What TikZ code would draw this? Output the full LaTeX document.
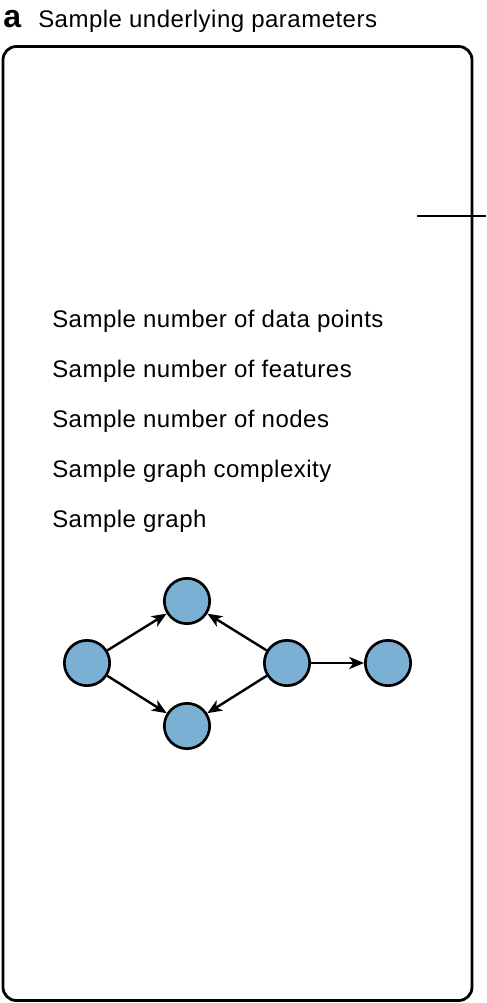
\documentclass[tikz,border=0pt]{standalone}
\usepackage{fontspec}
\setmainfont{Liberation Sans}
\newfontfamily\stepfont[LetterSpace=2]{Liberation Sans}
\usetikzlibrary{arrows.meta,positioning}
\definecolor{GraphBlue}{HTML}{7BAFD4}

\begin{document}
\begin{tikzpicture}[x=0.75pt,y=-0.75pt,
    steptext/.style={anchor=base west,inner sep=0pt,
      font=\stepfont\fontsize{18pt}{21pt}\selectfont},
    vertex/.style={circle,draw=black,fill=GraphBlue,line width=2pt,
      minimum size=34pt,inner sep=0pt},
    edge/.style={line width=1.8pt,-{Stealth[length=11pt,width=9pt,inset=3pt]}}]
  \useasboundingbox (0,0) rectangle (486,1003);
  % panel title
  \node[anchor=base west,inner sep=0pt,
    font=\fontsize{24pt}{26pt}\selectfont\bfseries] (panel) at (3,27) {a};
  \node[steptext] (title) at (38,27) {Sample underlying parameters};
  % frame
  \draw[line width=2.1pt,rounded corners=10pt] (3,46.5) rectangle (472,1000.5);
  \coordinate (linkL) at (417,216);
  \coordinate (linkR) at (486,216);
  \draw[line width=1.9pt] (linkL) -- (linkR);
  % sampling steps
  \node[steptext] (npoints) at (52,327) {Sample number of data points};
  \node[steptext] (nfeat) at (52,377) {Sample number of features};
  \node[steptext] (nnodes) at (52,427) {Sample number of nodes};
  \node[steptext] (cmplx) at (52,477) {Sample graph complexity};
  \node[steptext] (sgraph) at (52,527) {Sample graph};
  % graph
  \node[vertex] (vA) at (87,663) {};
  \node[vertex] (vB) at (187,601) {};
  \node[vertex] (vC) at (187,726) {};
  \node[vertex] (vD) at (287,663) {};
  \node[vertex] (vE) at (388,663) {};
  \draw[edge] (vA) -- (vB);
  \draw[edge] (vA) -- (vC);
  \draw[edge] (vD) -- (vB);
  \draw[edge] (vD) -- (vC);
  \draw[edge] (vD) -- (vE);
\end{tikzpicture}
\end{document}
